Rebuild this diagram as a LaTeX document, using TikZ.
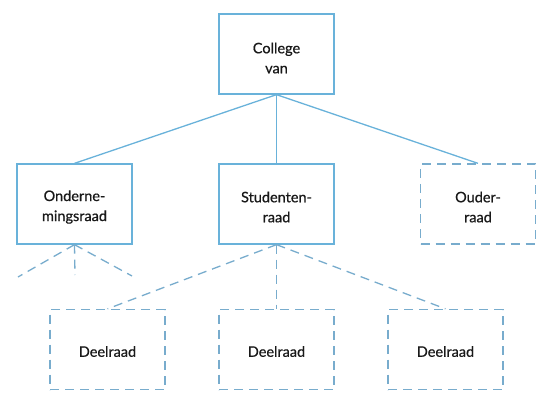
\documentclass[tikz,border=0pt]{standalone}
\usepackage{fontspec}
\newfontfamily\labfont{Lato}[FakeBold=0.7]
\definecolor{lineblue}{RGB}{105,178,218}
\definecolor{dashblue}{RGB}{120,172,205}
\definecolor{txt}{RGB}{25,25,25}
\begin{document}
\begin{tikzpicture}[x=1pt,y=-1pt,
  orgbox/.style={draw=lineblue, line width=1.3pt, minimum width=115pt, minimum height=80pt, inner sep=0pt},
  dashbox/.style={orgbox, draw=dashblue, dash pattern=on 9pt off 6pt},
  labtext/.style={align=center, font=\labfont\fontsize{14.5}{20}\selectfont, text=txt, inner sep=0pt},
  solidlink/.style={draw=lineblue, line width=1.3pt},
  dashlink/.style={draw=dashblue, line width=1.3pt, dash pattern=on 9pt off 6pt}]
\useasboundingbox (0,0) rectangle (541,393);
\node[orgbox] (college) at (276.5,54) {};
\node[orgbox] (onder) at (74.5,204) {};
\node[orgbox] (student) at (276.5,204) {};
\node[dashbox] (ouder) at (478,204) {};
\node[dashbox] (deel1) at (107.5,349.5) {};
\node[dashbox] (deel2) at (276.5,349.5) {};
\node[dashbox] (deel3) at (445.5,349.5) {};
\node[labtext] (tcollege) at ([yshift=-4pt]college.center) {College\\van};
\node[labtext] (tonder) at ([yshift=-3pt]onder.center) {Onderne-\\mingsraad};
\node[labtext] (tstudent) at ([yshift=-3pt]student.center) {Studenten-\\raad};
\node[labtext] (touder) at ([yshift=-3pt]ouder.center) {Ouder-\\raad};
\node[labtext] (tdeel1) at ([yshift=-2pt]deel1.center) {Deelraad};
\node[labtext] (tdeel2) at ([yshift=-2pt]deel2.center) {Deelraad};
\node[labtext] (tdeel3) at ([yshift=-2pt]deel3.center) {Deelraad};
\coordinate (onl) at (18,277);
\coordinate (onm) at (75,275);
\coordinate (onr) at (132,276);
\draw[solidlink] (college.south) -- (onder.north);
\draw[solidlink] (college.south) -- (student.north);
\draw[solidlink] (college.south) -- (ouder.north);
\draw[dashlink] (student.south) -- (deel1.north);
\draw[dashlink] (student.south) -- (deel2.north);
\draw[dashlink] (student.south) -- (deel3.north);
\draw[dashlink] (onder.south) -- (onl);
\draw[dashlink] (onder.south) -- (onm);
\draw[dashlink] (onder.south) -- (onr);
\end{tikzpicture}
\end{document}
